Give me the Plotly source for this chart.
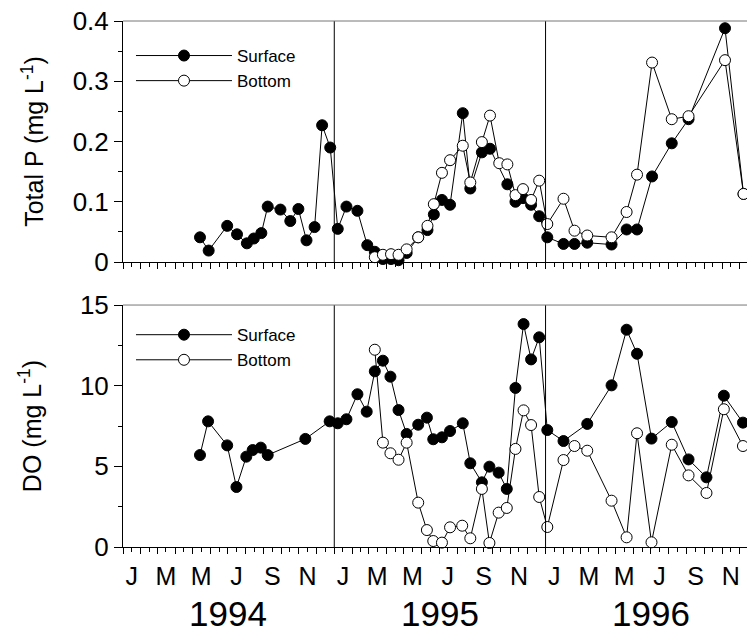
import plotly.graph_objects as go

# ---------------- data ----------------
tp_surface_dates = [
    "1994-05-14", "1994-05-29", "1994-06-30", "1994-07-17", "1994-08-03", "1994-08-15",
    "1994-08-28", "1994-09-08", "1994-09-30", "1994-10-17", "1994-10-31", "1994-11-14",
    "1994-11-28", "1994-12-11", "1994-12-25",
    "1995-01-07", "1995-01-22", "1995-02-10", "1995-02-27", "1995-03-12", "1995-03-26",
    "1995-04-09", "1995-04-22", "1995-05-06", "1995-05-26", "1995-06-11", "1995-06-22",
    "1995-07-06", "1995-07-20", "1995-08-11", "1995-08-24", "1995-09-13", "1995-09-27",
    "1995-10-27", "1995-11-10", "1995-11-23", "1995-12-07", "1995-12-21",
    "1996-01-04", "1996-02-01", "1996-02-20", "1996-03-13", "1996-04-24", "1996-05-20",
    "1996-06-07", "1996-07-03", "1996-08-06", "1996-09-04", "1996-11-06", "1996-12-08",
]
tp_surface = [
    0.041, 0.019, 0.060, 0.046, 0.031, 0.039,
    0.048, 0.092, 0.087, 0.068, 0.088, 0.036,
    0.058, 0.227, 0.190,
    0.055, 0.092, 0.085, 0.028, 0.017, 0.005,
    0.005, 0.003, 0.015, 0.041, 0.053, 0.079,
    0.103, 0.095, 0.247, 0.122, 0.182, 0.188,
    0.129, 0.100, 0.106, 0.095, 0.076,
    0.041, 0.030, 0.030, 0.032, 0.029, 0.054,
    0.054, 0.142, 0.197, 0.237, 0.388, 0.113,
]

tp_bottom_dates = [
    "1995-03-12", "1995-03-26", "1995-04-09", "1995-04-22", "1995-05-06", "1995-05-26",
    "1995-06-11", "1995-06-22", "1995-07-06", "1995-07-20", "1995-08-11", "1995-08-24",
    "1995-09-13", "1995-09-27", "1995-10-13", "1995-10-27", "1995-11-10", "1995-11-23",
    "1995-12-07", "1995-12-21",
    "1996-01-04", "1996-02-01", "1996-02-20", "1996-03-13", "1996-04-24", "1996-05-20",
    "1996-06-07", "1996-07-03", "1996-08-06", "1996-09-04", "1996-11-06", "1996-12-08",
]
tp_bottom = [
    0.008, 0.012, 0.013, 0.012, 0.021, 0.041,
    0.060, 0.096, 0.148, 0.169, 0.193, 0.132,
    0.199, 0.243, 0.164, 0.162, 0.111, 0.121,
    0.103, 0.135,
    0.063, 0.105, 0.052, 0.044, 0.041, 0.083,
    0.145, 0.331, 0.237, 0.242, 0.335, 0.113,
]

do_surface_dates = [
    "1994-05-14", "1994-05-28", "1994-06-30", "1994-07-16", "1994-08-02", "1994-08-13",
    "1994-08-27", "1994-09-08", "1994-11-12", "1994-12-24",
    "1995-01-07", "1995-01-22", "1995-02-10", "1995-02-26", "1995-03-12", "1995-03-26",
    "1995-04-08", "1995-04-22", "1995-05-06", "1995-05-26", "1995-06-10", "1995-06-21",
    "1995-07-06", "1995-07-20", "1995-08-11", "1995-08-24", "1995-09-13", "1995-09-26",
    "1995-10-12", "1995-10-26", "1995-11-10", "1995-11-24", "1995-12-07", "1995-12-21",
    "1996-01-04", "1996-02-01", "1996-03-13", "1996-04-24", "1996-05-20", "1996-06-07",
    "1996-07-02", "1996-08-06", "1996-09-04", "1996-10-05", "1996-11-04", "1996-12-07",
]
do_surface = [
    5.70, 7.79, 6.30, 3.72, 5.60, 6.01,
    6.16, 5.70, 6.70, 7.79,
    7.67, 7.92, 9.47, 8.39, 10.89, 11.55,
    10.56, 8.49, 7.01, 7.58, 8.02, 6.68,
    6.80, 7.19, 7.67, 5.19, 4.01, 4.98,
    4.61, 3.60, 9.86, 13.82, 11.63, 13.00,
    7.25, 6.57, 7.63, 10.02, 13.47, 11.98,
    6.72, 7.75, 5.43, 4.32, 9.38, 7.71,
]

do_bottom_dates = [
    "1995-03-12", "1995-03-26", "1995-04-08", "1995-04-22", "1995-05-06", "1995-05-26",
    "1995-06-10", "1995-06-21", "1995-07-06", "1995-07-20", "1995-08-10", "1995-08-24",
    "1995-09-13", "1995-09-26", "1995-10-12", "1995-10-26", "1995-11-10", "1995-11-24",
    "1995-12-07", "1995-12-21",
    "1996-01-04", "1996-02-01", "1996-02-20", "1996-03-13", "1996-04-24", "1996-05-20",
    "1996-06-07", "1996-07-02", "1996-08-06", "1996-09-04", "1996-10-05", "1996-11-04",
    "1996-12-07",
]
do_bottom = [
    12.23, 6.47, 5.81, 5.41, 6.47, 2.75,
    1.05, 0.37, 0.27, 1.22, 1.32, 0.54,
    3.60, 0.25, 2.13, 2.42, 6.08, 8.47,
    7.56, 3.10,
    1.24, 5.39, 6.26, 5.97, 2.87, 0.60,
    7.05, 0.29, 6.34, 4.44, 3.35, 8.54,
    6.26,
]

years = ["1994", "1995", "1996"]
month_letters = ["J", "F", "M", "A", "M", "J", "J", "A", "S", "O", "N", "D"]
year_boundaries = ["1995-01-01", "1996-01-01"]
x_range = ["1994-01-01", "1996-12-14"]

# ---------------- figure ----------------
FONT = "Liberation Sans, Arial, Helvetica, sans-serif"
fig = go.Figure()

def add_series(x, y, filled, name, xa, ya, legend):
    fig.add_trace(go.Scatter(
        x=x, y=y, mode="lines+markers", name=name,
        xaxis=xa, yaxis=ya, legend=legend, cliponaxis=False,
        line=dict(color="black", width=1),
        marker=dict(size=11, color="black" if filled else "white",
                    line=dict(color="black", width=1), symbol="circle"),
    ))

add_series(tp_surface_dates, tp_surface, True, "Surface", "x", "y", "legend")
add_series(tp_bottom_dates, tp_bottom, False, "Bottom", "x", "y", "legend")
add_series(do_surface_dates, do_surface, True, "Surface", "x2", "y2", "legend2")
add_series(do_bottom_dates, do_bottom, False, "Bottom", "x2", "y2", "legend2")

# mid-month ticks, labelled every other month
tick_vals, tick_text = [], []
for yr in years:
    for m in range(12):
        tick_vals.append(f"{yr}-{m+1:02d}-16")
        tick_text.append(month_letters[m] if m % 2 == 0 else "")

xcommon = dict(
    type="date", range=x_range, showgrid=False, zeroline=False,
    showline=True, linecolor="black", linewidth=1,
    tickmode="array", tickvals=tick_vals, ticktext=tick_text,
    ticks="outside", ticklen=4, tickcolor="black", tickwidth=1,
    minor=dict(dtick="M1", tick0="1994-01-01", ticks="outside", ticklen=6,
               tickcolor="black", tickwidth=1, showgrid=False),
    tickfont=dict(family=FONT, size=25, color="black"),
    ticklabelstandoff=3,
)
ycommon = dict(
    showgrid=False, zeroline=False, showline=True, linecolor="black", linewidth=1,
    ticks="outside", ticklen=8, tickcolor="black", tickwidth=1,
    tickfont=dict(family=FONT, size=26, color="black"),
    title_font=dict(family=FONT, size=25, color="black"),
)

fig.update_layout(
    width=747, height=637,
    margin=dict(l=123, r=0, t=21, b=90),
    paper_bgcolor="white", plot_bgcolor="white",
    showlegend=True,
    xaxis=dict(xcommon, anchor="y", domain=[0, 1], showticklabels=False),
    xaxis2=dict(xcommon, anchor="y2", domain=[0, 1], matches="x"),
    yaxis=dict(ycommon, anchor="x", domain=[0.5418, 1], range=[0, 0.4],
               tickvals=[0, 0.1, 0.2, 0.3, 0.4], ticktext=["0", "0.1", "0.2", "0.3", "0.4"],
               minor=dict(tickvals=[0.05, 0.15, 0.25, 0.35], ticks="outside", ticklen=4,
                          tickcolor="black"),
               title=dict(text="Total P (mg L<sup>-1</sup>)", standoff=21)),
    yaxis2=dict(ycommon, anchor="x2", domain=[0, 0.46], range=[0, 15],
                tickvals=[0, 5, 10, 15],
                minor=dict(tickvals=[2.5, 7.5, 12.5], ticks="outside", ticklen=4,
                           tickcolor="black"),
                title=dict(text="DO (mg L<sup>-1</sup>)", standoff=31)),
    legend=dict(x=0.0128, y=0.9677, xanchor="left", yanchor="top",
                bgcolor="rgba(0,0,0,0)", font=dict(family=FONT, size=17, color="black"),
                itemwidth=96, tracegroupgap=0),
    legend2=dict(x=0.0128, y=0.437, xanchor="left", yanchor="top",
                 bgcolor="rgba(0,0,0,0)", font=dict(family=FONT, size=17, color="black"),
                 itemwidth=96, tracegroupgap=0),
)

shapes = []
for xa, ya in (("x", "y"), ("x2", "y2")):
    for b in year_boundaries:
        shapes.append(dict(type="line", xref=xa, yref=f"{ya} domain", x0=b, x1=b, y0=0, y1=1,
                           line=dict(color="black", width=1)))
    shapes.append(dict(type="line", xref=f"{xa} domain", yref=f"{ya} domain", x0=0, x1=1,
                       y0=1, y1=1, line=dict(color="#777777", width=1)))
fig.update_layout(shapes=shapes)

annotations = []
for yr in years:
    annotations.append(dict(text=yr, x=f"{yr}-07-02", xref="x2", y=-0.1255, yref="paper",
                            yanchor="middle", xanchor="center", showarrow=False,
                            font=dict(family=FONT, size=35, color="black")))
fig.update_layout(annotations=annotations)

fig.write_html("out.html")
